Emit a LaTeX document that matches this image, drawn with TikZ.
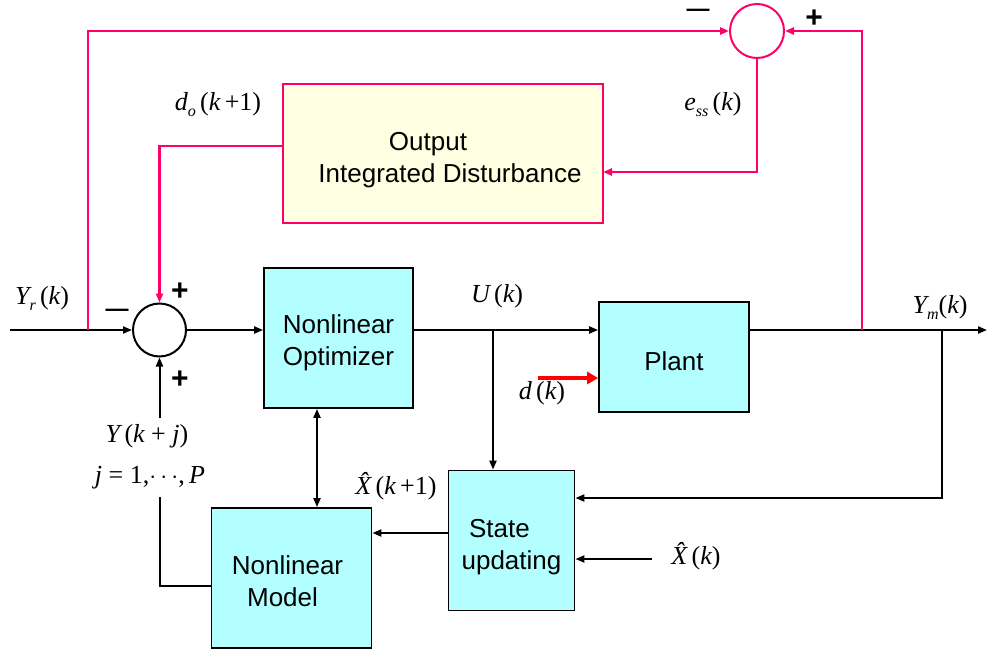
\documentclass[tikz,border=0pt]{standalone}
\usepackage{fontspec}
\setmainfont{Liberation Sans}
\newfontfamily\tms{Liberation Serif}
\usetikzlibrary{arrows.meta,calc}

\definecolor{linkpink}{RGB}{255,0,102}
\definecolor{boxcyan}{RGB}{179,255,255}
\definecolor{boxcream}{RGB}{255,255,226}
\definecolor{distred}{RGB}{255,0,0}

% italic variable and lowered subscript for the signal labels
\newcommand\mi[1]{{\itshape #1}}
\newcommand\sbs[1]{\raisebox{-0.5ex}{\fontsize{16}{16}\selectfont\itshape #1}}
% invisible strut that lowers a block's text a little
\newcommand\lift[1]{\rule{0pt}{#1}}

\tikzset{
  blk/.style={draw=black, line width=1.8pt, fill=boxcyan, inner sep=0pt,
              font=\fontsize{26}{32}\selectfont, align=center},
  ln/.style={line width=2pt, draw=black},
  tip/.style={-{Triangle[length=9pt,width=7pt]}},
  arr/.style={ln, tip},
  pk/.style={line width=2.2pt, draw=linkpink},
  pkarr/.style={pk, tip},
  redarr/.style={line width=4pt, draw=distred, -{Triangle[length=11pt,width=12pt]}},
  sum/.style={circle, line width=2pt, inner sep=0pt, fill=white},
  lbl/.style={inner sep=0pt, font=\tms\fontsize{26}{28}\selectfont},
  sgn/.style={inner sep=0pt, font=\fontsize{30}{30}\selectfont\bfseries},
  dsh/.style={inner sep=0pt, font=\fontsize{23}{23}\selectfont\bfseries},
}

\begin{document}
\begin{tikzpicture}[x=1pt,y=-1pt]
\useasboundingbox (0,0) rectangle (987,650);

% blocks
\node[blk, minimum width=149pt, minimum height=140pt] (opt) at (338.5,338)
  {\lift{28pt}Nonlinear\\Optimizer};
\node[blk, minimum width=150pt, minimum height=110pt] (plant) at (674,357)
  {\lift{27pt}Plant};
\node[blk, minimum width=126pt, minimum height=140pt] (su) at (511.5,540.5)
  {\lift{31pt}State\hspace*{24pt}\\updating};
\node[blk, minimum width=160pt, minimum height=140pt] (model) at (291.5,578)
  {\lift{25pt}Nonlinear\hspace*{8pt}\\Model\hspace*{18pt}};
\node[blk, draw=linkpink, fill=boxcream, minimum width=320pt, minimum height=139pt] (dist) at (443,153.5)
  {\lift{31pt}Output\hspace*{30pt}\\\hspace*{14pt}Integrated Disturbance};

% summing junctions
\node[sum, draw=linkpink, minimum size=54pt] (sumtop) at (757,31) {};
\node[sum, draw=black, minimum size=53pt] (sumL) at (159.5,330) {};

% branch points and free ends
\coordinate (yrin)  at (10,330);
\coordinate (yrtap) at (88,330);
\coordinate (ujn)   at (493,330);
\coordinate (ymtap) at (862,330);
\coordinate (ymjn)  at (942,330);
\coordinate (ymout) at (987,330);
\coordinate (distin)  at (603,172);
\coordinate (distout) at (283,146);
\coordinate (dsrc)  at (538,378);
\coordinate (xksrc) at (652,559);
\coordinate (sufb)  at (su.east |- 0,498);
\coordinate (suout) at (su.west |- 0,533);
\coordinate (mdout) at (model.west |- 0,586);
\coordinate (fbtop) at (159.5,497);
\coordinate (fbbot) at (159.5,418);

% main forward path
\draw[arr] (yrin) -- (sumL.west);
\draw[arr] (sumL.east) -- (sumL.east -| opt.west);
\draw[arr] (sumL.east -| opt.east) -- (sumL.east -| plant.west);
\draw[arr] (plant.east |- sumL.east) -- (ymout);
\draw[redarr] (dsrc) -- (dsrc -| plant.west);

% disturbance estimation loop
\draw[pkarr] (yrtap) |- (sumtop.west);
\draw[pkarr] (ymtap) |- (sumtop.east);
\draw[pkarr] (sumtop.south) |- (distin);
\draw[pkarr] (distout) -| (sumL.north);

% state estimation and prediction
\draw[arr] (ujn) -- (ujn |- su.north);
\draw[arr] (ymjn) |- (sufb);
\draw[arr] (xksrc) -- (xksrc -| su.east);
\draw[arr] (suout) -- (suout -| model.east);
\draw[ln, {Triangle[length=9pt,width=7pt]}-{Triangle[length=9pt,width=7pt]}]
  (opt.south -| 317,0) -- (model.north -| 317,0);
\draw[ln] (mdout) -| (fbtop);
\draw[arr] (fbbot) -- (sumL.south);

% signal labels
\node[lbl] (yrl)  at (42,298)  {\mi{Y}\sbs{r}\,(\mi{k})};
\node[lbl] (dol)  at (218,105) {\mi{d}\sbs{o}\,(\mi{k}\,+1)};
\node[lbl] (essl) at (713,105) {\mi{e}\sbs{ss}\,(\mi{k})};
\node[lbl] (ul)   at (497,296) {\mi{U}\,(\mi{k})};
\node[lbl] (dl)   at (542,393) {\mi{d}\,(\mi{k})};
\node[lbl] (yml)  at (940,307) {\mi{Y}\sbs{m}(\mi{k})};
\node[lbl] (ykl)  at (147,436) {\mi{Y}\,(\mi{k} + \mi{j})};
\node[lbl] (jl)   at (150,478) {\mi{j} = 1,$\cdots$,\,\mi{P}};
\node[lbl] (xk1l) at (396,486) {\mi{\^{X}}\,(\mi{k}\,+1)};
\node[lbl] (xkl)  at (696,556) {\mi{\^{X}}\,(\mi{k})};

% junction signs
\node[dsh] (mtop) at (698,13)  {—};
\node[sgn] (ptop) at (814,19)  {+};
\node[dsh] (mL)   at (117,313) {—};
\node[sgn] (pLu)  at (180,292) {+};
\node[sgn] (pLd)  at (180,380) {+};
\end{tikzpicture}
\end{document}
